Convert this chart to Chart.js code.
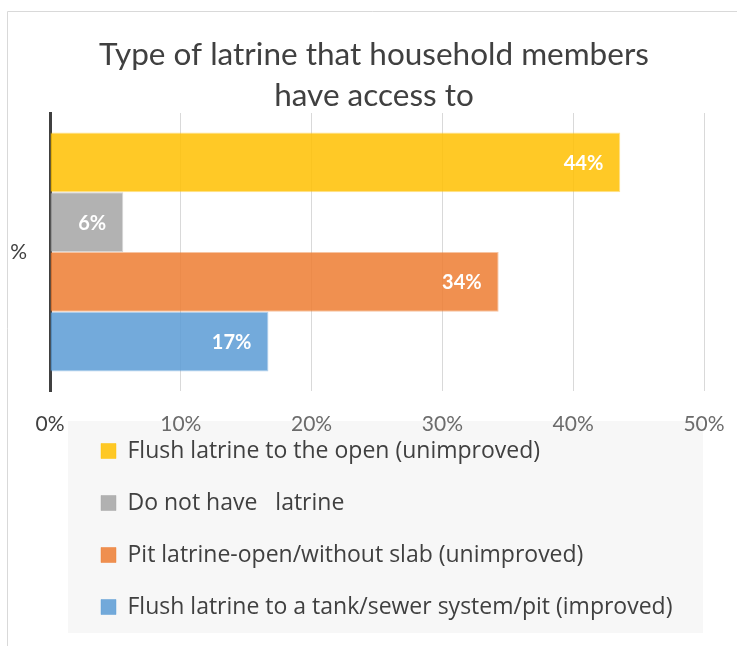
<!DOCTYPE html>
<html>
<head>
<meta charset="utf-8">
<script src="https://cdn.jsdelivr.net/npm/chart.js@4"></script>
<style>
  html, body { margin: 0; padding: 0; background: #fff; }
  #wrap { width: 737px; height: 646px; }
</style>
</head>
<body>
<div id="wrap"><canvas id="latrineChart"></canvas></div>
<script>
// data
const categories = ['%'];
const seriesNames = [
  'Flush latrine to the open (unimproved)',
  'Do not have   latrine',
  'Pit latrine-open/without slab (unimproved)',
  'Flush latrine to a tank/sewer system/pit (improved)'
];
const seriesValues = [43.6, 5.6, 34.3, 16.7];
const seriesColors = ['255,192,0', '165,165,165', '237,125,49', '91,155,213'];
const xTickValues = [0, 10, 20, 30, 40, 50];

const FONT = 'Lato, "Open Sans", sans-serif';

// white % labels inside the bar ends
const barValueLabels = {
  id: 'barValueLabels',
  afterDatasetsDraw(chart) {
    const ctx = chart.ctx;
    ctx.save();
    ctx.font = 'bold 20px ' + FONT;
    ctx.fillStyle = '#ffffff';
    ctx.textAlign = 'right';
    ctx.textBaseline = 'middle';
    chart.data.datasets.forEach((ds, i) => {
      chart.getDatasetMeta(i).data.forEach((bar, j) => {
        ctx.fillText(Math.round(ds.data[j]) + '%', bar.x - 17, bar.y + 1);
      });
    });
    ctx.restore();
  }
};

// outer frame, grey panel behind the legend, and a few box moves
const frameAndPanel = {
  id: 'frameAndPanel',
  afterLayout(chart) {
    const lg = chart.legend;
    lg.left = 72;
    lg.right = 703;
    lg.top = 410.5;
    lg.bottom = 642;
    chart.titleBlock.left = 7;
    chart.titleBlock.right = 741;
  },
  beforeDraw(chart) {
    const ctx = chart.ctx;
    ctx.save();
    ctx.strokeStyle = '#d9d9d9';
    ctx.lineWidth = 1;
    ctx.beginPath();
    ctx.moveTo(7.5, 646);
    ctx.lineTo(7.5, 11.5);
    ctx.lineTo(737, 11.5);
    ctx.stroke();
    ctx.fillStyle = '#f7f7f7';
    ctx.fillRect(68, 421, 635, 212);
    ctx.restore();
  }
};

new Chart(document.getElementById('latrineChart'), {
  type: 'bar',
  data: {
    labels: categories,
    datasets: seriesNames.map((name, i) => ({
      label: name,
      data: [seriesValues[i]],
      backgroundColor: 'rgba(' + seriesColors[i] + ',0.85)',
      borderColor: 'rgba(' + seriesColors[i] + ',0.45)',
      borderWidth: 1,
      categoryPercentage: 0.86,
      barPercentage: 1
    }))
  },
  options: {
    indexAxis: 'y',
    responsive: true,
    maintainAspectRatio: false,
    animation: false,
    layout: { padding: { top: 12, left: 8, right: 33, bottom: 50 } },
    scales: {
      x: {
        min: xTickValues[0],
        max: xTickValues[xTickValues.length - 1],
        ticks: {
          stepSize: xTickValues[1] - xTickValues[0],
          callback: v => v + '%',
          font: { family: FONT, size: 21 },
          color: c => c.index === 0 ? '#404040' : '#6b6b6b',
          padding: 21
        },
        grid: { color: '#d9d9d9', drawTicks: false },
        border: { display: false },
        afterFit: s => {
          s.height = 45;
          s.paddingLeft = 0;
          s.paddingRight = 0;
        }
      },
      y: {
        ticks: {
          font: { family: FONT, size: 21 },
          color: '#404040',
          padding: 23
        },
        grid: { display: false, drawTicks: false },
        border: { color: '#404040', width: 3 },
        afterFit: s => { s.width = 42; }
      }
    },
    plugins: {
      title: {
        display: true,
        text: ['Type of latrine that household members', 'have access to'],
        font: { family: FONT, size: 31.5, weight: 'normal', lineHeight: '41px' },
        color: '#404040',
        padding: { top: 22.5, bottom: -3.5 }
      },
      legend: {
        position: 'bottom',
        align: 'start',
        fullSize: false,
        maxHeight: 160,
        labels: {
          font: { family: '"Open Sans", sans-serif', size: 23 },
          color: '#404040',
          boxWidth: 15,
          boxHeight: 15,
          padding: 29
        }
      },
      tooltip: { enabled: false }
    }
  },
  plugins: [frameAndPanel, barValueLabels]
});
</script>
</body>
</html>
